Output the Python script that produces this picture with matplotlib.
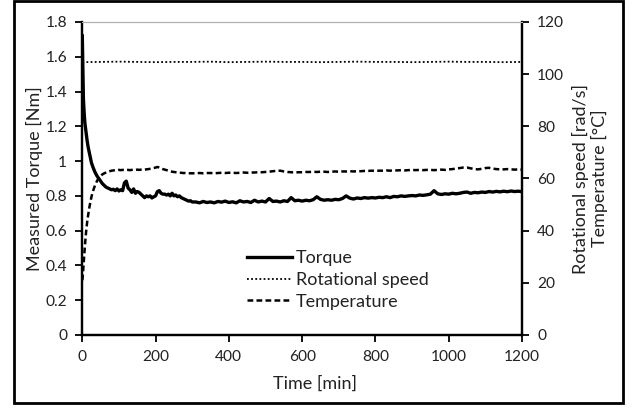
import matplotlib.pyplot as plt
from matplotlib.patches import Rectangle

# time grid [min], shared by torque and temperature
time = [0, 1, 2, 3, 5, 7, 10, 13, 16, 20,
        25, 30, 35, 40, 45, 50, 55, 60, 65, 70,
        75, 80, 85, 90, 95, 100, 105, 110, 115, 120,
        125, 130, 135, 140, 145, 150, 155, 160, 165, 170,
        175, 180, 185, 190, 195, 200, 205, 210, 215, 220,
        225, 230, 235, 240, 245, 250, 255, 260, 265, 270,
        275, 280, 285, 290, 295, 300, 310, 320, 330, 340,
        350, 360, 370, 380, 390, 400, 410, 420, 430, 440,
        450, 460, 470, 480, 490, 500, 510, 520, 530, 540,
        550, 560, 570, 580, 590, 600, 610, 620, 630, 640,
        650, 660, 670, 680, 690, 700, 710, 720, 730, 740,
        750, 760, 770, 780, 790, 800, 810, 820, 830, 840,
        850, 860, 870, 880, 890, 900, 910, 920, 930, 940,
        950, 960, 970, 980, 990, 1000, 1010, 1020, 1030, 1040,
        1050, 1060, 1070, 1080, 1090, 1100, 1110, 1120, 1130, 1140,
        1150, 1160, 1170, 1180, 1190, 1200]

# measured torque [Nm]
torque = [1.72, 1.60, 1.46, 1.36, 1.28, 1.22, 1.17, 1.12, 1.08, 1.04,
          0.99, 0.96, 0.935, 0.915, 0.90, 0.885, 0.87, 0.86, 0.85, 0.845,
          0.84, 0.835, 0.838, 0.83, 0.84, 0.828, 0.835, 0.83, 0.875, 0.885,
          0.845, 0.835, 0.82, 0.84, 0.815, 0.825, 0.82, 0.81, 0.80, 0.79,
          0.80, 0.795, 0.80, 0.788, 0.795, 0.80, 0.825, 0.83, 0.815, 0.81,
          0.81, 0.805, 0.81, 0.80, 0.815, 0.80, 0.805, 0.795, 0.80, 0.79,
          0.785, 0.78, 0.775, 0.77, 0.772, 0.765, 0.765, 0.76, 0.768, 0.762,
          0.765, 0.76, 0.768, 0.764, 0.77, 0.762, 0.766, 0.76, 0.772, 0.765,
          0.768, 0.762, 0.775, 0.765, 0.77, 0.765, 0.785, 0.768, 0.77, 0.765,
          0.772, 0.768, 0.79, 0.772, 0.775, 0.77, 0.775, 0.772, 0.778, 0.795,
          0.78, 0.775, 0.778, 0.775, 0.78, 0.778, 0.785, 0.80, 0.787, 0.782,
          0.788, 0.785, 0.79, 0.787, 0.79, 0.788, 0.792, 0.79, 0.795, 0.79,
          0.797, 0.795, 0.80, 0.797, 0.80, 0.802, 0.80, 0.805, 0.803, 0.806,
          0.81, 0.83, 0.812, 0.808, 0.812, 0.81, 0.815, 0.812, 0.815, 0.82,
          0.822, 0.815, 0.82, 0.818, 0.822, 0.82, 0.825, 0.822, 0.826, 0.823,
          0.827, 0.824, 0.828, 0.825, 0.827, 0.824]

# temperature [°C]
temperature = [21, 22, 24, 26.5, 30, 34, 39, 43, 46, 49.5,
               53, 55.5, 57.5, 59, 60.3, 61, 61.6, 62, 62.3, 62.6,
               62.8, 63, 63.1, 63.2, 63.2, 63.3, 63.2, 63.3, 63.2, 63.3,
               63.3, 63.2, 63.3, 63.4, 63.3, 63.4, 63.3, 63.4, 63.5, 63.4,
               63.5, 63.6, 63.7, 63.8, 64.0, 64.2, 64.4, 64.2, 63.9, 63.6,
               63.4, 63.2, 63.0, 62.8, 62.6, 62.5, 62.4, 62.3, 62.2, 62.2,
               62.1, 62.1, 62.0, 62.0, 62.0, 62.0, 62.0, 62.1, 62.0, 62.1,
               62.1, 62.0, 62.1, 62.2, 62.1, 62.2, 62.2, 62.1, 62.2, 62.3,
               62.2, 62.3, 62.3, 62.4, 62.4, 62.5, 62.6, 62.8, 62.9, 63.0,
               62.7, 62.5, 62.4, 62.3, 62.4, 62.4, 62.5, 62.5, 62.6, 62.5,
               62.6, 62.6, 62.5, 62.6, 62.7, 62.6, 62.7, 62.7, 62.8, 62.7,
               62.8, 62.8, 62.9, 62.9, 63.0, 62.9, 63.0, 63.0, 63.1, 63.0,
               63.1, 63.1, 63.2, 63.1, 63.2, 63.3, 63.2, 63.3, 63.2, 63.3,
               63.3, 63.2, 63.3, 63.4, 63.3, 63.5, 63.6, 63.8, 64.0, 64.2,
               64.2, 63.9, 63.6, 63.5, 63.7, 64.0, 64.1, 63.8, 63.6, 63.5,
               63.5, 63.6, 63.5, 63.4, 63.5, 63.4]

# rotational speed [rad/s]
speed_time = [0, 50, 100, 150, 200, 250, 300, 350, 400, 450, 500, 550, 600,
              650, 700, 750, 800, 850, 900, 950, 1000, 1050, 1100, 1150, 1200]
speed = [104.6, 104.7, 104.8, 104.7, 104.6, 104.7, 104.7, 104.8, 104.6,
         104.7, 104.8, 104.7, 104.7, 104.6, 104.7, 104.8, 104.7, 104.7,
         104.6, 104.7, 104.8, 104.7, 104.7, 104.6, 104.7]

left_ticks = [0, 0.2, 0.4, 0.6, 0.8, 1, 1.2, 1.4, 1.6, 1.8]
left_labels = ["0", "0.2", "0.4", "0.6", "0.8", "1", "1.2", "1.4", "1.6", "1.8"]
right_ticks = [0, 20, 40, 60, 80, 100, 120]
x_ticks = [0, 200, 400, 600, 800, 1000, 1200]

plt.rcParams['font.family'] = ['Lato', 'DejaVu Sans']
txt = '#222222'

fig = plt.figure(figsize=(6.35, 4.08), dpi=100)
ax = fig.add_axes([82.3 / 635, 1 - 335 / 408, 439.7 / 635, 313 / 408])
ax2 = ax.twinx()

l1, = ax.plot(time, torque, color='black', lw=2.4, label='Torque')
l2, = ax2.plot(speed_time, speed, color='black', lw=1.3, linestyle=(0, (1, 1.3)),
               label='Rotational speed')
l3, = ax2.plot(time, temperature, color='black', lw=1.8, linestyle=(0, (2.3, 1.3)),
               label='Temperature')

ax.set_xlim(0, 1200)
ax.set_ylim(0, 1.8)
ax2.set_ylim(0, 120)
ax.set_xticks(x_ticks)
ax.set_yticks(left_ticks)
ax.set_yticklabels(left_labels)
ax2.set_yticks(right_ticks)

for a in (ax, ax2):
    a.tick_params(direction='out', length=5, width=1.3, pad=6,
                  labelsize=11.2, labelcolor=txt, color='black')
    for s in ('left', 'right', 'bottom'):
        a.spines[s].set_linewidth(1.6)
        a.spines[s].set_color('black')
    a.spines['top'].set_color('#b0b0b0')
    a.spines['top'].set_linewidth(0.8)

fig.text(34.5 / 635, 1 - 178.5 / 408, 'Measured Torque [Nm]', rotation=90,
         ha='center', va='center', fontsize=13, color=txt)
fig.text(590 / 635, 1 - 178.5 / 408, 'Rotational speed [rad/s]\nTemperature [°C]',
         rotation=90, ha='center', va='center', multialignment='center',
         fontsize=13, color=txt, linespacing=1.2)
fig.text(315 / 635, 1 - 384 / 408, 'Time [min]', ha='center', va='center',
         fontsize=13, color=txt)

leg = ax2.legend(handles=[l1, l2, l3], loc='center left',
                 bbox_to_anchor=(0.375, 0.176), frameon=False, borderpad=0,
                 borderaxespad=0, handlelength=2.5, handletextpad=0.2,
                 labelspacing=0.32, fontsize=13)
for t in leg.get_texts():
    t.set_color(txt)

fig.patches.append(Rectangle((13.5 / 635, 1 - 403.3 / 408), 609 / 635, 402.5 / 408,
                             transform=fig.transFigure, fill=False,
                             edgecolor='black', lw=2.0))

fig.savefig('out.png', dpi=100)
